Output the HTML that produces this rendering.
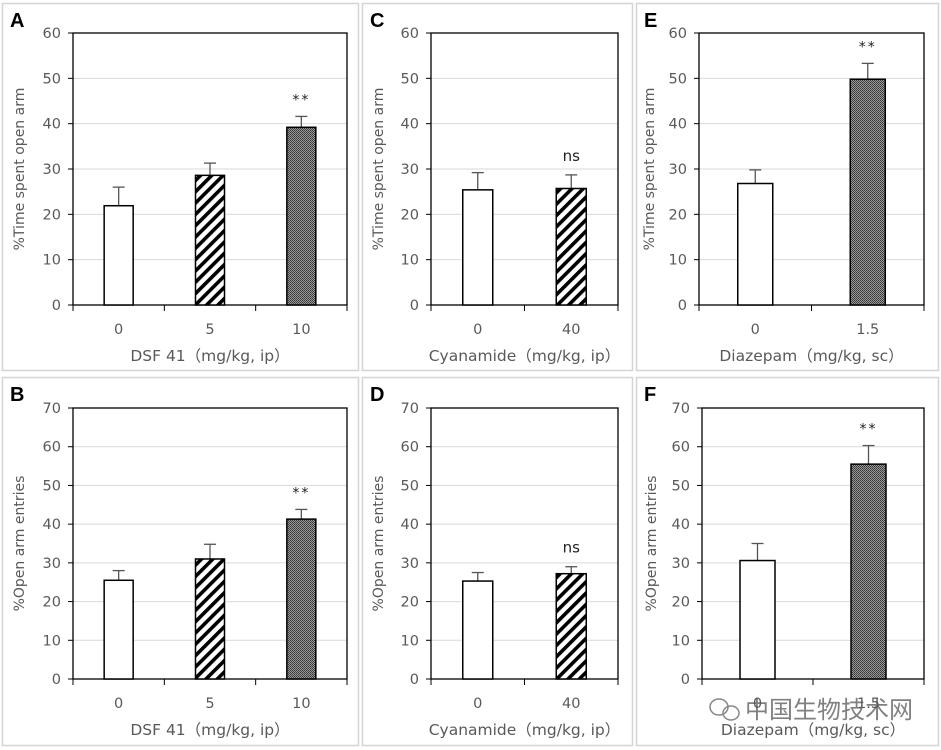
<!DOCTYPE html>
<html><head><meta charset="utf-8"><style>
body{margin:0;background:#fff}
svg{display:block;font-family:"DejaVu Sans","Liberation Sans","Noto Sans CJK SC",sans-serif}
</style></head><body>
<svg id="fig" width="941" height="750" viewBox="0 0 941 750">
<defs>
<pattern id="hatch" width="8" height="8" patternUnits="userSpaceOnUse" patternTransform="rotate(45)">
<rect width="8" height="8" fill="#fff"/><rect width="3.6" height="8" fill="#000"/></pattern>
<pattern id="dots" width="2" height="2" patternUnits="userSpaceOnUse">
<rect width="2" height="2" fill="#9a9a9a"/><rect width="1" height="1" fill="#333"/><rect x="1" y="1" width="1" height="1" fill="#444"/></pattern>
</defs>
</svg>
<script>
const aCats=["0","5","10"], aVals=[21.9,28.6,39.2], aErrs=[4.1,2.7,2.4], aSig=["","","**"];
const bCats=["0","5","10"], bVals=[25.5,31.0,41.3], bErrs=[2.5,3.8,2.5], bSig=["","","**"];
const cCats=["0","40"], cVals=[25.4,25.7], cErrs=[3.8,3.0], cSig=["","ns"];
const dCats=["0","40"], dVals=[25.3,27.2], dErrs=[2.2,1.8], dSig=["","ns"];
const eCats=["0","1.5"], eVals=[26.8,49.8], eErrs=[3.0,3.5], eSig=["","**"];
const fCats=["0","1.5"], fVals=[30.6,55.5], fErrs=[4.4,4.8], fSig=["","**"];
const yTicks60=[0,10,20,30,40,50,60], yTicks70=[0,10,20,30,40,50,60,70];

const NS="http://www.w3.org/2000/svg", svg=document.getElementById('fig');
function mk(tag,attrs,parent,txt){const e=document.createElementNS(NS,tag);for(const k in attrs)e.setAttribute(k,attrs[k]);if(txt!==undefined)e.textContent=txt;(parent||svg).appendChild(e);return e;}

function panel(p){
  const g=mk('g',{});
  
  
  const box=mk('rect',{x:p.box[0]+.5,y:p.box[1]+.5,width:p.box[2]-p.box[0],height:p.box[3]-p.box[1],fill:'none',stroke:'#d4d4d4','stroke-width':1.5},g);
  
  
  const L=mk('text',{x:p.box[0]+8,y:p.box[1]+24,'font-size':20,'font-weight':'bold',fill:'#000','font-family':'Liberation Sans, sans-serif'},g,p.id);
  
  
  const x0=p.plot[0],x1=p.plot[1],yt=p.plot[2],yb=p.plot[3],ymax=p.ticks[p.ticks.length-1];
  const Y=v=>yb-(v/ymax)*(yb-yt);
  const n=p.cats.length, bw=(x1-x0)/n;
  const X=i=>x0+bw*(i+.5);
  p.ticks.forEach(t=>{
    if(t>0&&t<ymax){const gl=mk('line',{x1:x0,x2:x1,y1:Y(t),y2:Y(t),stroke:'#d9d9d9','stroke-width':1},g);
      }
    mk('line',{x1:x0-5,x2:x0,y1:Y(t),y2:Y(t),stroke:'#000'},g);
    const tl=mk('text',{x:x0-12,y:Y(t)+5,'font-size':14.5,fill:'#595959','text-anchor':'end'},g,String(t));
    
  });
  const fr=mk('rect',{x:x0,y:yt,width:x1-x0,height:yb-yt,fill:'none',stroke:'#000','stroke-width':1.3},g);
  
  for(let i=0;i<=n;i++)mk('line',{x1:x0+bw*i,x2:x0+bw*i,y1:yb,y2:yb+6,stroke:'#000'},g);
  p.cats.forEach((c,i)=>{
    const cx=X(i), w=p.bw, v=p.vals[i], e=p.errs[i];
    const el=mk('line',{x1:cx,x2:cx,y1:Y(v),y2:Y(v+e),stroke:'#555','stroke-width':1.3},g);
    
    mk('line',{x1:cx-6,x2:cx+6,y1:Y(v+e),y2:Y(v+e),stroke:'#555','stroke-width':1.3},g);
    const r=mk('rect',{x:cx-w/2,y:Y(v),width:w,height:yb-Y(v),fill:p.fills[i],stroke:'#000','stroke-width':1.5},g);
    
    if(p.sig[i]){const s=mk('text',{x:cx,y:Y(v+e)-(p.sig[i]=='ns'?14:12),'font-size':p.sig[i]=='ns'?15:14,fill:'#222','text-anchor':'middle','letter-spacing':p.sig[i]=='ns'?0:2},g,p.sig[i]);
      }
    const xl=mk('text',{x:cx,y:yb+29,'font-size':14.5,fill:'#595959','text-anchor':'middle'},g,c);
    
  });
  const xt=mk('text',{x:(x0+x1)/2,y:yb+56,'font-size':15.5,fill:'#595959','text-anchor':'middle'},g,p.xtitle);
  
  const yx=p.ytx, yy=(yt+yb)/2;
  const yl=mk('text',{x:yx,y:yy,'font-size':14,fill:'#595959','text-anchor':'middle',transform:`rotate(-90 ${yx} ${yy})`},g,p.ytitle);
  
}
const W='#fff',H='url(#hatch)',D='url(#dots)';
panel({id:'A',box:[2,3,358,370],plot:[73,347,33,305],ticks:yTicks60,cats:aCats,vals:aVals,errs:aErrs,sig:aSig,fills:[W,H,D],bw:29,xtitle:'DSF 41（mg/kg, ip）',ytitle:'%Time spent open arm',ytx:24});
panel({id:'B',box:[2,377,358,745],plot:[73,347,408,679],ticks:yTicks70,cats:bCats,vals:bVals,errs:bErrs,sig:bSig,fills:[W,H,D],bw:29,xtitle:'DSF 41（mg/kg, ip）',ytitle:'%Open arm entries',ytx:24});
panel({id:'C',box:[362,3,632,370],plot:[431,618,33,305],ticks:yTicks60,cats:cCats,vals:cVals,errs:cErrs,sig:cSig,fills:[W,H],bw:30,xtitle:'Cyanamide（mg/kg, ip）',ytitle:'%Time spent open arm',ytx:383});
panel({id:'D',box:[362,377,632,745],plot:[431,618,408,679],ticks:yTicks70,cats:dCats,vals:dVals,errs:dErrs,sig:dSig,fills:[W,H],bw:30,xtitle:'Cyanamide（mg/kg, ip）',ytitle:'%Open arm entries',ytx:383});
panel({id:'E',box:[636,3,938,370],plot:[699,924,33,305],ticks:yTicks60,cats:eCats,vals:eVals,errs:eErrs,sig:eSig,fills:[W,D],bw:35,xtitle:'Diazepam（mg/kg, sc）',ytitle:'%Time spent open arm',ytx:654});
panel({id:'F',box:[636,377,938,745],plot:[702,924,408,679],ticks:yTicks70,cats:fCats,vals:fVals,errs:fErrs,sig:fSig,fills:[W,D],bw:35,xtitle:'Diazepam（mg/kg, sc）',ytitle:'%Open arm entries',ytx:656});
const wm=mk('text',{x:745,y:718,'font-size':24,fill:'#555','fill-opacity':.75,'font-family':'Noto Sans CJK SC, sans-serif'},svg,'中国生物技术网');


const ic=mk('g',{fill:'none',stroke:'#888','stroke-width':1.5});


mk('ellipse',{cx:719,cy:707,rx:9,ry:8},ic);mk('ellipse',{cx:731,cy:713,rx:8,ry:7},ic);
</script>
</body></html>
